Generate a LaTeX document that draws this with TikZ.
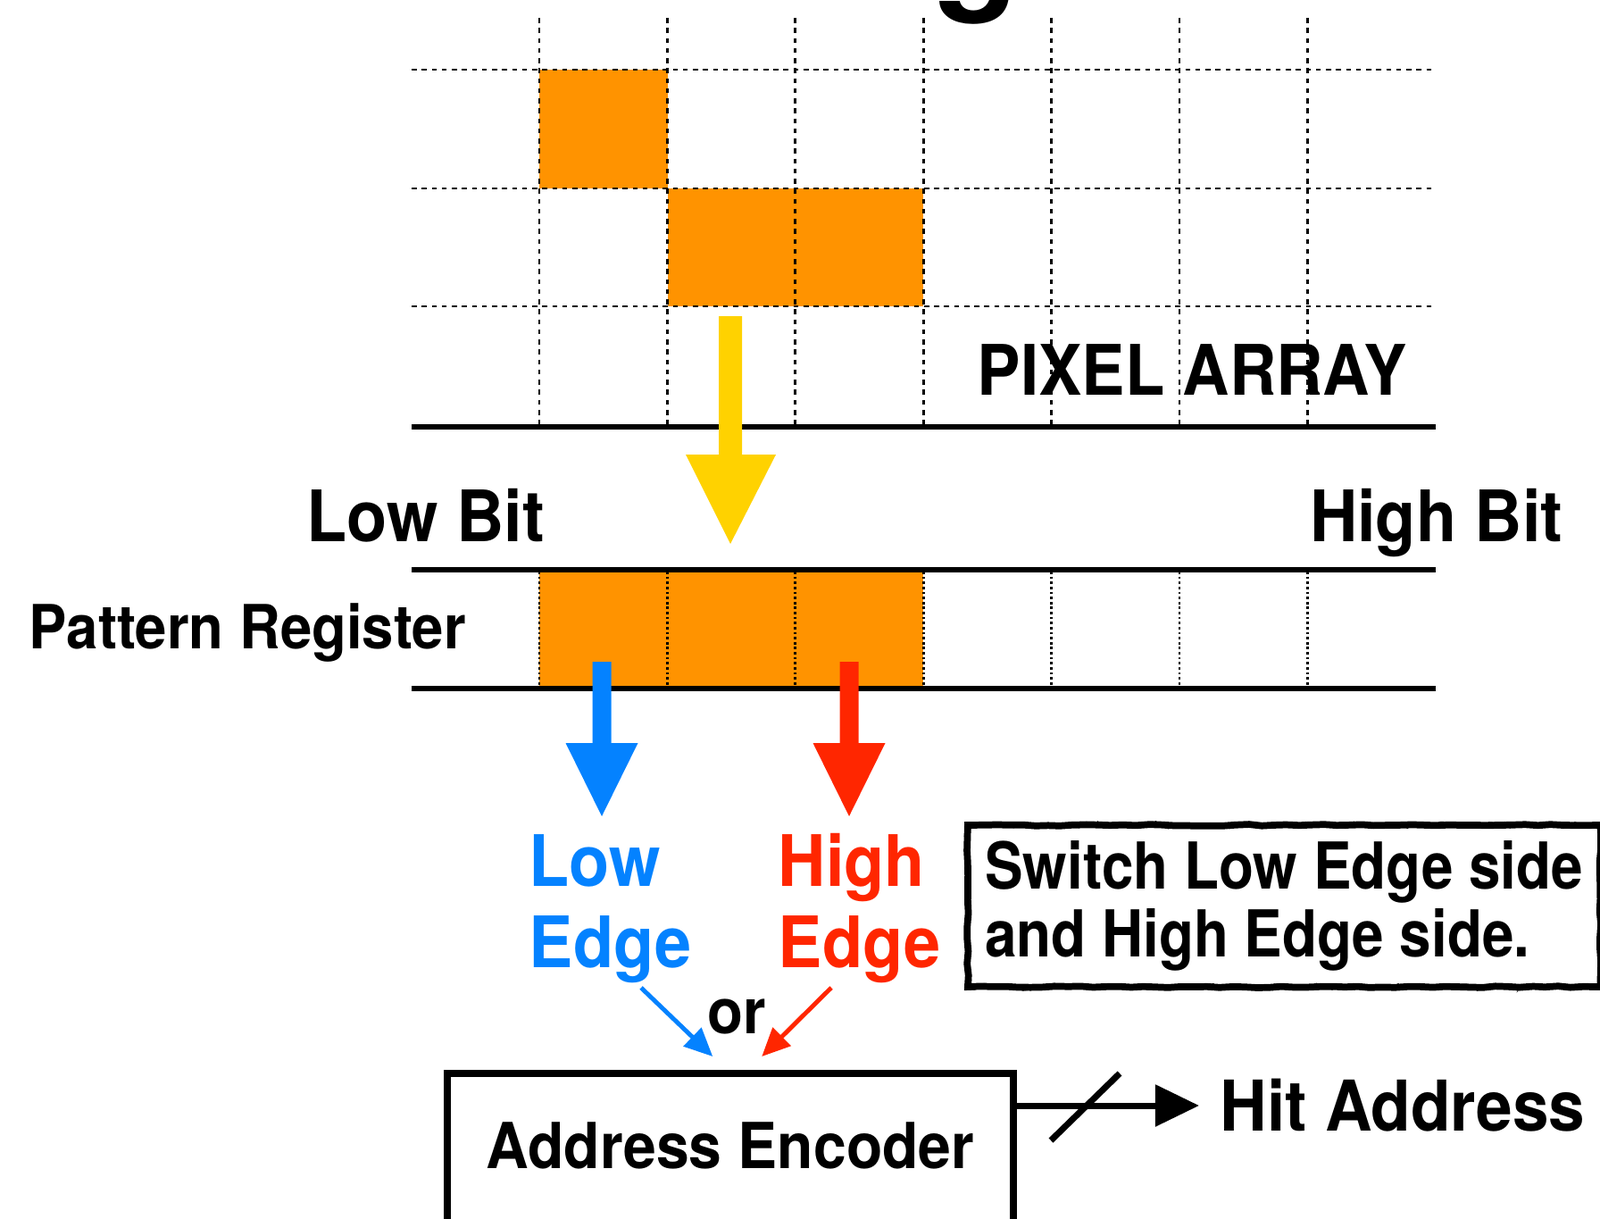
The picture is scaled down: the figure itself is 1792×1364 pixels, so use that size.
\documentclass[tikz,border=0pt]{standalone}
\usepackage{fontspec}
\setmainfont{TeX Gyre Heros}[FakeStretch=0.93]
\newfontfamily\notefont{TeX Gyre Heros}[FakeStretch=0.88]
\usetikzlibrary{arrows.meta, calc, decorations.pathmorphing}

\definecolor{pixorange}{RGB}{255,147,0}
\definecolor{edgeblue}{RGB}{4,130,255}
\definecolor{edgered}{RGB}{255,38,0}
\definecolor{flowyellow}{RGB}{255,210,0}

\tikzset{
  gridline/.style={line width=0.8pt, dash pattern=on 1.6pt off 1.6pt},
  regline/.style={line width=0.8pt, dash pattern=on 0.8pt off 0.8pt},
  rail/.style={line width=1.8pt},
  lbl/.style={inner sep=0pt, font=\bfseries\fontsize{#1}{#1}\selectfont},
  notebox/.style={draw, line width=2.2pt, inner sep=0pt,
    decorate, decoration={random steps, segment length=4pt, amplitude=0.25pt},
    preaction={draw, line width=0.6pt, decorate,
      decoration={random steps, segment length=1.5pt, amplitude=0.9pt}}},
  encbox/.style={draw, line width=2.3pt, inner sep=0pt},
  thinarrow/.style={line width=1.4pt, -{Triangle[length=9pt,width=8pt]}},
  hitarrow/.style={line width=2pt, -{Triangle[length=14pt,width=13pt]}},
}

\begin{document}
\begin{tikzpicture}[x=0.01cm, y=-0.01cm]
    \useasboundingbox (0,0) rectangle (1792,1364);
    \clip (0,0) rectangle (1792,1364);
    % Title (cut off)
    \node[lbl=48, anchor=base west] (title) at (1045,-9) {g};
    % Hit pixels
    \fill[pixorange] (604,78) rectangle (748,211);
    \fill[pixorange] (748,211) rectangle (1034,343);
    % Pixel grid
    \foreach \y in {78,211,343} \draw[gridline] (461,\y) -- (1608,\y);
    \foreach \i in {0,...,6} \draw[gridline] (604+143.4*\i,20) -- (604+143.4*\i,478);
    \node[lbl=22.2, anchor=base west] (pixarray) at (1094,442) {PIXEL ARRAY};
    % Pattern register
    \fill[pixorange] (604,638) rectangle (1034,771);
    \foreach \i in {0,...,6} \draw[regline] (604+143.4*\i,640) -- (604+143.4*\i,770);
    \draw[rail] (461,478) -- (1608,478);
    \draw[rail] (461,638) -- (1608,638);
    \draw[rail] (461,771) -- (1608,771);
    \node[lbl=22.6, anchor=base west] (lowbit) at (343,606) {Low Bit};
    \node[lbl=22.6, anchor=base east] (highbit) at (1751,606) {High Bit};
    \node[lbl=19.4, anchor=base west] (patreg) at (32,726) {Pattern Register};
    % Block arrows
    \fill[flowyellow] (805,354) -- (831,354) -- (831,509) -- (869,509) -- (818,609) -- (768,509) -- (805,509) -- cycle;
    \foreach \cx/\col in {674/edgeblue, 951/edgered}
        \fill[\col] (\cx-10.5,741) -- (\cx+10.5,741) -- (\cx+10.5,832) -- (\cx+40.5,832) -- (\cx,914) -- (\cx-40.5,832) -- (\cx-10.5,832) -- cycle;
    % Edge labels
    \node[lbl=22.6, anchor=base west, text=edgeblue] (lowtxt) at (592,992) {Low};
    \node[lbl=22.6, anchor=base west, text=edgeblue] (lowedge) at (592,1083) {Edge};
    \node[lbl=22.6, anchor=base west, text=edgered] (hightxt) at (871,992) {High};
    \node[lbl=22.6, anchor=base west, text=edgered] (highedge) at (871,1083) {Edge};
    % Note
    \node[notebox, anchor=west, minimum width=7.08cm, minimum height=1.81cm, align=left,
        font=\notefont\bfseries\fontsize{20.6}{21.8}\selectfont] (note) at (1080,1014.5) {Switch Low Edge side\\and High Edge side.};
    % Address encoder
    \node[encbox, anchor=north west, minimum width=6.34cm, minimum height=3cm] (enc) at (497,1198) {};
    \node[lbl=20.2, anchor=base] (enctxt) at (818,1308) {Address Encoder};
    \node[lbl=20, anchor=base west] (ortxt) at (792,1157) {or};
    \coordinate (lowtail) at (718,1106);
    \coordinate (hightail) at (931,1106);
    \draw[thinarrow, edgeblue] (lowtail) -- ($(enc.north)+(-20,-15)$);
    \draw[thinarrow, edgered] (hightail) -- ($(enc.north)+(35,-15)$);
    % Output
    \coordinate (hitstart) at ($(enc.north east)+(0,40)$);
    \coordinate (hitend) at (1343,1238);
    \draw[hitarrow] (hitstart) -- (hitend);
    \draw[line width=2pt] (1177,1277) -- (1254,1202);
    \node[lbl=22.3, anchor=base west] (hitaddr) at (1366,1266) {Hit Address};
\end{tikzpicture}
\end{document}
